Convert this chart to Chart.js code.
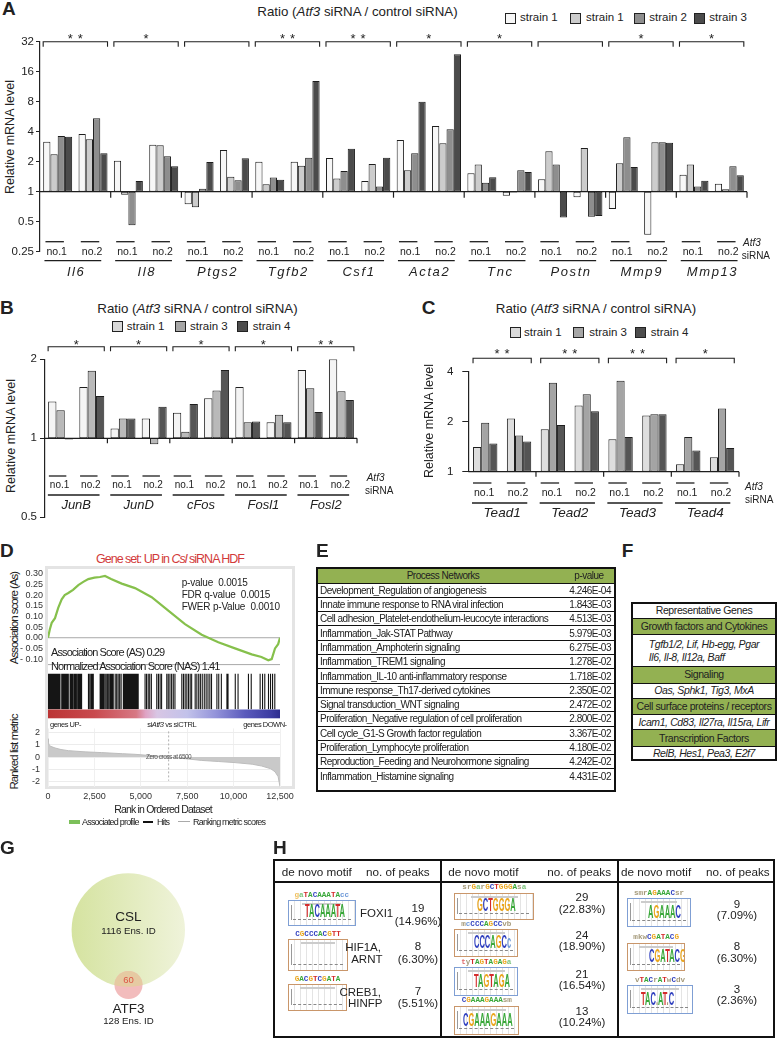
<!DOCTYPE html>
<html><head><meta charset="utf-8">
<script src="https://cdn.jsdelivr.net/npm/chart.js@4.4.1/dist/chart.umd.min.js"></script>
<style>
html,body{margin:0;padding:0;background:#fff}
#wrap{position:relative;width:779px;height:1040px;overflow:hidden;font-family:"Liberation Sans",Arial,Helvetica,sans-serif;color:#222}
#wrap canvas{position:absolute}
.t{position:absolute;white-space:nowrap;line-height:1}
.c{transform:translate(-50%,-50%)}
.l{transform:translate(0,-50%)}
.rot{transform:translate(-50%,-50%) rotate(-90deg)}
.pl{font-weight:bold;font-size:19px}
.er{display:flex;align-items:center;height:13.3px;border-top:1.5px solid #111;font-size:10px;letter-spacing:-0.5px;white-space:nowrap}
.er:first-child{border-top:none}
.e1{width:250px;flex:none;padding-left:2px;box-sizing:border-box;overflow:hidden}
.e2{flex:1;text-align:right;padding-right:3px;white-space:nowrap}
.hdr{background:#93b152}
.hdr .e1{text-align:center;padding:0}
.hdr .e2{text-align:center;padding:0 4px 0 0}
.fr{display:flex;flex-direction:column;justify-content:center;align-items:center;border-top:1.5px solid #111;font-size:10.5px;letter-spacing:-0.4px;line-height:1.25;box-sizing:border-box;white-space:nowrap}
.fr:first-child{border-top:none}
.fg{background:#93b152}
.fi{font-style:italic}
.logo{position:absolute;box-sizing:border-box;background:repeating-linear-gradient(90deg,#fff 0 5px,#e4e4e4 5px 6px);overflow:hidden}
.cons{position:absolute;font-family:"Liberation Mono","DejaVu Sans Mono",monospace;font-weight:bold;font-size:7.6px;line-height:1;white-space:nowrap;transform:translate(-50%,-50%)}
.lg{position:absolute;font-weight:bold;font-size:15px;line-height:1;white-space:nowrap;transform-origin:left bottom;transform:scale(0.5,1.25)}
</style></head>
<body><div id="wrap"></div>
<script>
// ================= DATA =================
const sirnaLabels = ['no.1', 'no.2'];

// Panel A
const genesA = ['Il6', 'Il8', 'Ptgs2', 'Tgfb2', 'Csf1', 'Acta2', 'Tnc', 'Postn', 'Mmp9', 'Mmp13'];
const seriesA = ['strain 1', 'strain 1', 'strain 2', 'strain 3'];
const starsA = [2, 1, 0, 2, 2, 1, 1, 0, 1, 1];
// order per gene: no.1, no.2
const aStrain1White = [3.17, 3.79, 2.05, 2.96, 0.75, 2.62, 2.00, 2.00, 2.18, 1.28, 3.30, 4.56, 1.53, 0.91, 1.33, 0.88, 0.67, 0.37, 1.48, 1.20];
const aStrain1Gray  = [2.37, 3.36, 0.93, 2.92, 0.70, 1.41, 1.19, 1.82, 1.36, 1.90, 1.64, 3.06, 1.87, 0.98, 2.54, 2.74, 1.93, 3.13, 1.87, 1.06];
const aStrain2      = [3.62, 5.45, 0.46, 2.27, 1.07, 1.30, 1.39, 2.19, 1.61, 1.13, 2.43, 4.23, 1.23, 1.64, 1.87, 0.56, 3.51, 3.13, 1.13, 1.80];
const aStrain3      = [3.56, 2.43, 1.28, 1.80, 1.99, 2.16, 1.32, 12.9, 2.70, 2.19, 8.00, 23.9, 1.40, 1.58, 0.55, 0.57, 1.77, 3.10, 1.29, 1.46];
const ticksA = [0.25, 0.5, 1, 2, 4, 8, 16, 32];

// Panel B
const genesB = ['JunB', 'JunD', 'cFos', 'Fosl1', 'Fosl2'];
const seriesB = ['strain 1', 'strain 3', 'strain 4'];
const starsB = [1, 1, 1, 1, 2];
const bStrain1 = [1.38, 1.57, 1.09, 1.19, 1.25, 1.42, 1.57, 1.15, 1.82, 2.00];
const bStrain3 = [1.28, 1.81, 1.19, 0.95, 1.06, 1.52, 1.15, 1.23, 1.55, 1.51];
const bStrain4 = [0.99, 1.45, 1.19, 1.32, 1.35, 1.82, 1.16, 1.15, 1.26, 1.40];
const ticksB = [0.5, 1, 2];

// Panel C
const genesC = ['Tead1', 'Tead2', 'Tead3', 'Tead4'];
const seriesC = ['strain 1', 'strain 3', 'strain 4'];
const starsC = [2, 2, 2, 1];
const cStrain1 = [1.41, 2.09, 1.80, 2.50, 1.57, 2.18, 1.11, 1.22];
const cStrain3 = [1.97, 1.65, 3.43, 2.93, 3.53, 2.22, 1.62, 2.40];
const cStrain4 = [1.48, 1.52, 1.91, 2.31, 1.62, 2.22, 1.34, 1.39];
const ticksC = [1, 2, 4];

// Panel D (GSEA)
const esRank  = [0, 100, 200, 377, 550, 738, 900, 1094, 1350, 1633, 1900, 2172, 2500, 2800, 3071, 3400, 3971, 4688, 5587, 6482, 7381, 8281, 9176, 10075, 10975, 11500, 11870, 12053, 12231, 12400, 12500];
const esScore = [0, 0.04, 0.07, 0.092, 0.14, 0.18, 0.20, 0.21, 0.225, 0.247, 0.262, 0.275, 0.282, 0.285, 0.29, 0.276, 0.254, 0.233, 0.19, 0.127, 0.064, 0.014, -0.021, -0.05, -0.078, -0.09, -0.106, -0.10, -0.05, -0.03, 0.0];
const esTicks = [-0.10, -0.05, 0, 0.05, 0.10, 0.15, 0.20, 0.25, 0.30];
const hitRanks = [20, 60, 110, 150, 200, 240, 290, 330, 380, 420, 470, 520, 560, 610, 645,
  740, 800, 850, 905, 960, 1010, 1060, 1095,
  1190, 1240, 1300, 1350, 1420, 1480, 1530, 1600, 1660, 1720, 1780, 1810,
  2180, 2250, 2320, 2380, 2440,
  2810, 2870, 2930, 2990, 3060, 3130, 3200, 3270, 3340, 3400, 3460, 3515,
  3620, 3700, 3780, 3860, 3940,
  4060, 4110, 4160, 4210, 4260, 4310, 4360, 4410, 4460, 4510, 4560, 4610, 4660, 4710, 4760, 4810, 4860,
  5230, 5310, 5400, 5480, 5570, 5860, 5950, 6040, 6120,
  6400, 6480, 6570, 6660, 6750, 6840, 7210, 7300, 7390, 7480, 7570, 7660, 7740,
  7930, 8020, 8120, 8210, 8310, 8420, 8520, 8620, 8720, 8810,
  9100, 9200, 9340, 9640, 9700, 10090, 10240, 10800, 10950, 11430, 11560, 11680, 11880, 11990, 12100, 12220];
const metricRank = [0, 20, 60, 150, 377, 700, 1094, 2000, 2893, 4000, 4688, 5500, 6482, 7400, 8281, 9200, 10075, 11000, 11515, 12000, 12231, 12400, 12460, 12500];
const metricVal  = [1.5, 1.2, 1.0, 0.88, 0.75, 0.62, 0.53, 0.43, 0.37, 0.28, 0.23, 0.13, 0.0, -0.13, -0.27, -0.36, -0.45, -0.58, -0.73, -0.95, -1.2, -1.6, -2.1, -2.4];
const metricTicks = [-2, -1, 0, 1, 2];
const rankTicks = [0, 2500, 5000, 7500, 10000, 12500];
const zeroCross = 6500;

// Panel E
const processNetworks = ['Development_Regulation of angiogenesis', 'Innate immune response to RNA viral infection',
  'Cell adhesion_Platelet-endothelium-leucocyte interactions', 'Inflammation_Jak-STAT Pathway', 'Inflammation_Amphoterin signaling',
  'Inflammation_TREM1 signaling', 'Inflammation_IL-10 anti-inflammatory response', 'Immune response_Th17-derived cytokines',
  'Signal transduction_WNT signaling', 'Proliferation_Negative regulation of cell proliferation', 'Cell cycle_G1-S Growth factor regulation',
  'Proliferation_Lymphocyte proliferation', 'Reproduction_Feeding and Neurohormone signaling', 'Inflammation_Histamine signaling'];
const processPValues = ['4.246E-04', '1.843E-03', '4.513E-03', '5.979E-03', '6.275E-03', '1.278E-02', '1.718E-02', '2.350E-02',
  '2.472E-02', '2.800E-02', '3.367E-02', '4.180E-02', '4.242E-02', '4.431E-02'];

// Panel F
const repGroups = ['Growth factors and Cytokines', 'Signaling', 'Cell surface proteins / receptors', 'Transcription Factors'];
const repGenes = [['Tgfb1/2, Lif, Hb-egg, Pgar', 'Il6, Il-8, Il12a, Baff'], ['Oas, Sphk1, Tig3, MxA'], ['Icam1, Cd83, Il27ra, Il15ra, Lifr'], ['RelB, Hes1, Pea3, E2f7']];

// Panel G
const vennNames = ['CSL', 'ATF3'];
const vennCounts = [1116, 128];
const vennOverlap = 60;

// Panel H
const motifCons  = [['gaTACAAATAcc', 'CGCCCACGTT', 'GACGTCGATA'], ['srGarGCTGGGAsa', 'mcCCCAGCCvb', 'tyTAGTAGAGa', 'CGAAAGAAAsm'], ['smrAGAAACsr', 'mkwCGATACG', 'vTACrATwCdv']];
const motifLogo  = [['TACAAATA', '', ''], ['GCTGGGA', 'CCCAGCc', 'TAGTAGA', 'CGAAAGAAA'], ['AGAAAC', 'CGATACG', 'TAC.AT.C']];
const motifMatch = [['FOXI1', 'HIF1A,|ARNT', 'CREB1,|HINFP'], ['', '', '', ''], ['', '', '']];
const motifPeaks = [[19, 8, 7], [29, 24, 21, 13], [9, 8, 3]];
const motifPct   = [['14.96%', '6.30%', '5.51%'], ['22.83%', '18.90%', '16.54%', '10.24%'], ['7.09%', '6.30%', '2.36%']];

// ================= HELPERS =================
const FF = '"Liberation Sans", Arial, Helvetica, sans-serif';
Chart.defaults.font.family = FF;
Chart.defaults.color = '#222';
const wrap = document.getElementById('wrap');
function T(x, y, html, cls, style) {
  const d = document.createElement('div');
  d.className = 't ' + (cls || 'c');
  d.style.left = x + 'px'; d.style.top = y + 'px';
  if (style) d.style.cssText += style;
  d.innerHTML = html; wrap.appendChild(d); return d;
}
function D(x, y, w, h, style) {
  const d = document.createElement('div');
  d.style.cssText = 'position:absolute;left:' + x + 'px;top:' + y + 'px;width:' + w + 'px;height:' + h + 'px;' + (style || '');
  wrap.appendChild(d); return d;
}
function mkCanvas(l, t, w, h) {
  const c = document.createElement('canvas');
  c.width = w; c.height = h; c.style.left = l + 'px'; c.style.top = t + 'px';
  c.style.width = w + 'px'; c.style.height = h + 'px';
  wrap.appendChild(c); return c;
}

function annot(o) {
  return {
    id: 'annot',
    afterDatasetsDraw(chart) {
      const ctx = chart.ctx, a = chart.chartArea, xs = chart.scales.x, ys = chart.scales.y;
      const P = v => v - o.cT;
      const line = (x0, y0, x1, y1) => { ctx.beginPath(); ctx.moveTo(x0, y0); ctx.lineTo(x1, y1); ctx.stroke(); };
      const y1 = ys.getPixelForValue(1);
      ctx.save();
      ctx.strokeStyle = '#1e1e1e'; ctx.fillStyle = '#222'; ctx.lineWidth = 1.2;
      line(a.left, y1, a.right, y1);
      const n = o.genes.length, gw = (a.right - a.left) / n;
      for (let g = 1; g <= n; g++) { const x = a.left + g * gw; line(x, y1, x, y1 + o.tickDown); }
      const nd = chart.data.datasets.length;
      for (let g = 0; g < n; g++) {
        const b0 = chart.getDatasetMeta(0).data[2 * g], b1 = chart.getDatasetMeta(nd - 1).data[2 * g + 1];
        const x0 = b0.x - b0.width / 2, x1 = b1.x + b1.width / 2, by = P(o.bracketY);
        ctx.lineWidth = 1.1;
        ctx.beginPath(); ctx.moveTo(x0, by + o.bracketDrop); ctx.lineTo(x0, by); ctx.lineTo(x1, by); ctx.lineTo(x1, by + o.bracketDrop); ctx.stroke();
        const ns = o.stars[g], cx = (x0 + x1) / 2;
        ctx.font = '13px ' + FF; ctx.textAlign = 'center'; ctx.textBaseline = 'alphabetic';
        for (let s = 0; s < ns; s++) ctx.fillText('*', cx + (s - (ns - 1) / 2) * 10, P(o.starY) + 7.5);
        ctx.font = o.subFont + 'px ' + FF; ctx.textBaseline = 'middle';
        const c1 = xs.getPixelForValue(2 * g), c2 = xs.getPixelForValue(2 * g + 1);
        const w1 = ctx.measureText(sirnaLabels[0]).width, w2 = ctx.measureText(sirnaLabels[1]).width;
        ctx.fillText(sirnaLabels[0], c1 - 1, P(o.subY));
        ctx.fillText(sirnaLabels[1], c2 - 1, P(o.subY));
        ctx.lineWidth = 1.3;
        line(c1 - w1 / 2 - 2, P(o.lineAboveY), c1 + w1 / 2 - 4, P(o.lineAboveY));
        line(c2 - w2 / 2 - 2, P(o.lineAboveY), c2 + w2 / 2 - 4, P(o.lineAboveY));
        line(c1 - w1 / 2 - 3, P(o.lineBelowY), c2 + w2 / 2 - 2, P(o.lineBelowY));
        ctx.font = 'italic ' + o.geneFont + 'px ' + FF;
        ctx.letterSpacing = (o.geneLS || 0) + 'px';
        ctx.fillText(o.genes[g], (c1 + c2) / 2 + (o.geneLS || 0) / 2, P(o.geneY));
        ctx.letterSpacing = '0px';
      }
      ctx.restore();
    }
  };
}

function barPanel(o) {
  const cv = mkCanvas(o.cL, o.cT, o.cW, o.cH);
  const labels = [];
  o.genes.forEach(g => sirnaLabels.forEach(s => labels.push(g + ' ' + s)));
  const datasets = o.series.map((name, i) => ({
    label: name,
    data: o.values[i].map(v => [1, v]),
    backgroundColor: o.colors[i],
    borderColor: '#1e1e1e', borderWidth: 1, borderSkipped: false,
    categoryPercentage: o.catPct, barPercentage: 1
  }));
  new Chart(cv, {
    type: 'bar',
    data: { labels, datasets },
    options: {
      responsive: false, animation: false,
      layout: { padding: { left: o.area.l - o.cL - o.yW, right: o.cL + o.cW - o.area.r, top: o.area.t - o.cT, bottom: o.cT + o.cH - o.area.b } },
      scales: {
        x: { display: false, offset: true },
        y: {
          type: 'logarithmic', min: o.yMin, max: o.yMax,
          afterBuildTicks: s => { s.ticks = o.yTicks.map(v => ({ value: v })); },
          afterFit: s => { s.width = o.yW; },
          ticks: { callback: v => String(v), font: { size: 11.5 }, color: '#222', padding: o.tickPad, autoSkip: false },
          grid: { display: true, drawOnChartArea: false, drawTicks: true, tickLength: o.tickLen, color: '#222', lineWidth: 1 },
          border: { display: true, color: '#222', width: 1.2 }
        }
      },
      plugins: { legend: { display: false }, tooltip: { enabled: false } }
    },
    plugins: [annot(o)]
  });
}

// ================= PANEL A =================
T(2, 8, 'A', 'l pl');
T(357.5, 12, 'Ratio (<i>Atf3</i> siRNA / control siRNA)', 'c', 'font-size:13.3px');
const legA = [[505, 520, '#f7f7f7'], [570, 586, '#cccccc'], [634, 649.3, '#8e8e8e'], [694.3, 709.3, '#4b4b4b']];
legA.forEach((p, i) => { D(p[0], 12.8, 11, 11, 'border:1px solid #222;box-sizing:border-box;background:' + p[2]); T(p[1], 18.3, seriesA[i], 'l', 'font-size:11.5px'); });
T(10, 137, 'Relative mRNA level', 'rot', 'font-size:12.5px');
barPanel({
  cL: 0, cT: 0, cW: 779, cH: 290, area: { l: 40, r: 747, t: 41.7, b: 251.7 }, yW: 40,
  yMin: 0.25, yMax: 32, yTicks: ticksA, tickLen: 4, tickPad: 2, catPct: 0.82,
  genes: genesA, stars: starsA, series: seriesA,
  values: [aStrain1White, aStrain1Gray, aStrain2, aStrain3],
  colors: ['#f7f7f7', '#cccccc', '#8e8e8e', '#4b4b4b'],
  bracketY: 41.7, bracketDrop: 5, starY: 35, tickDown: 6,
  lineAboveY: 241.7, subY: 252, lineBelowY: 260.7, geneY: 272.7, subFont: 10.5, geneFont: 13, geneLS: 1.6
});
T(743, 243.3, '<i>Atf3</i>', 'l', 'font-size:10px');
T(741.7, 255.5, 'siRNA', 'l', 'font-size:10px');

// ================= PANEL B =================
T(0, 306.5, 'B', 'l pl');
T(197.5, 309, 'Ratio (<i>Atf3</i> siRNA / control siRNA)', 'c', 'font-size:13.3px');
const legB = [[111.7, 126.7, '#d9d9d9'], [175, 190, '#a6a6a6'], [237.3, 252.7, '#4d4d4d']];
legB.forEach((p, i) => { D(p[0], 321.2, 11, 11, 'border:1px solid #222;box-sizing:border-box;background:' + p[2]); T(p[1], 326.7, seriesB[i], 'l', 'font-size:11.5px'); });
T(11, 436, 'Relative mRNA level', 'rot', 'font-size:12.5px');
barPanel({
  cL: 0, cT: 290, cW: 400, cH: 240, area: { l: 45, r: 357, t: 359.3, b: 517.3 }, yW: 45,
  yMin: 0.5, yMax: 2, yTicks: ticksB, tickLen: 5, tickPad: 3, catPct: 0.8,
  genes: genesB, stars: starsB, series: seriesB,
  values: [bStrain1, bStrain3, bStrain4],
  colors: ['#f4f4f4', '#b9b9b9', '#555555'],
  bracketY: 346.7, bracketDrop: 4.5, starY: 341, tickDown: 5,
  lineAboveY: 476, subY: 485, lineBelowY: 495, geneY: 505.5, subFont: 10, geneFont: 13, geneLS: 0
});
T(366.7, 478.3, '<i>Atf3</i>', 'l', 'font-size:10px');
T(365, 491, 'siRNA', 'l', 'font-size:10px');

// ================= PANEL C =================
T(421.7, 306.7, 'C', 'l pl');
T(596, 309, 'Ratio (<i>Atf3</i> siRNA / control siRNA)', 'c', 'font-size:13.3px');
const legC = [[510, 524, '#d9d9d9'], [573.3, 589.3, '#a6a6a6'], [635, 650.7, '#4d4d4d']];
legC.forEach((p, i) => { D(p[0], 327.2, 11, 11, 'border:1px solid #222;box-sizing:border-box;background:' + p[2]); T(p[1], 332.7, seriesC[i], 'l', 'font-size:11.5px'); });
T(429, 421, 'Relative mRNA level', 'rot', 'font-size:12.5px');
barPanel({
  cL: 400, cT: 330, cW: 379, cH: 200, area: { l: 468.3, r: 739, t: 371.7, b: 471.7 }, yW: 68.3,
  yMin: 1, yMax: 4, yTicks: ticksC, tickLen: 6, tickPad: 9, catPct: 0.72,
  genes: genesC, stars: starsC, series: seriesC,
  values: [cStrain1, cStrain3, cStrain4],
  colors: ['#dedede', '#a4a4a4', '#555555'],
  bracketY: 358.3, bracketDrop: 5, starY: 350, tickDown: 5,
  lineAboveY: 483, subY: 493, lineBelowY: 503, geneY: 513.5, subFont: 10.5, geneFont: 13.5, geneLS: 0
});
T(745, 487.3, '<i>Atf3</i>', 'l', 'font-size:10px');
T(745, 499.5, 'siRNA', 'l', 'font-size:10px');

// ================= PANEL D =================
T(0, 550, 'D', 'l pl');
D(45, 566, 250, 223, 'border:3px solid #e4e4e4;box-sizing:border-box');
T(170, 559, 'Gene set: UP in <i>Csl</i> siRNA HDF', 'c', 'color:#d23a3a;font-size:12.5px;letter-spacing:-1px');
T(15, 618, 'Association score (As)', 'rot', 'font-size:11.5px;letter-spacing:-1px');
T(15, 752, 'Ranked list metric', 'rot', 'font-size:11.5px;letter-spacing:-0.9px');

const cvD1 = mkCanvas(0, 560, 300, 115);
new Chart(cvD1, {
  type: 'line',
  data: { datasets: [{ data: esRank.map((r, i) => ({ x: r, y: esScore[i] })), borderColor: '#86c04c', borderWidth: 2.2, pointRadius: 0, fill: false, tension: 0 }] },
  options: {
    responsive: false, animation: false,
    layout: { padding: { left: 0, right: 20, top: 9, bottom: 2 } },
    scales: {
      x: { type: 'linear', min: 0, max: 12500, display: false },
      y: {
        min: -0.126, max: 0.316,
        afterBuildTicks: s => { s.ticks = esTicks.map(v => ({ value: v })); },
        afterFit: s => { s.width = 48; },
        ticks: { callback: v => (v < -1e-9 ? '- ' + (-v).toFixed(2) : Math.abs(v).toFixed(2)), font: { size: 9 }, padding: 5, color: '#333', autoSkip: false },
        grid: { display: false, drawTicks: false }, border: { display: false }
      }
    },
    plugins: { legend: { display: false }, tooltip: { enabled: false } }
  },
  plugins: [{
    id: 'zero', beforeDatasetsDraw(chart) {
      const c = chart.ctx, a = chart.chartArea, y0 = chart.scales.y.getPixelForValue(0);
      c.save(); c.strokeStyle = '#a8a8a8'; c.lineWidth = 1;
      c.beginPath(); c.moveTo(a.left, y0); c.lineTo(a.right, y0); c.stroke();
      c.beginPath(); c.moveTo(a.left, a.bottom); c.lineTo(a.right, a.bottom); c.stroke();
      c.restore();
    }
  }]
});
T(181.7, 582.7, 'p-value&nbsp; 0.0015', 'l', 'font-size:10px;letter-spacing:-0.2px');
T(181.7, 594.5, 'FDR q-value&nbsp; 0.0015', 'l', 'font-size:10px;letter-spacing:-0.2px');
T(181.7, 606.8, 'FWER p-Value&nbsp; 0.0010', 'l', 'font-size:10px;letter-spacing:-0.2px');
T(51, 651.7, 'Association Score (AS) 0.29', 'l', 'font-size:11px;letter-spacing:-0.9px');
T(51, 666, 'Normalized Association Score (NAS) 1.41', 'l', 'font-size:11px;letter-spacing:-0.9px');

// hits: one vertical segment per hit rank (gaps between segments)
const hitSegments = [];
hitRanks.forEach(r => { hitSegments.push({ x: r, y: 0 }, { x: r, y: 1 }, { x: r, y: null }); });
const cvD2 = mkCanvas(0, 670, 300, 50);
new Chart(cvD2, {
  type: 'line',
  data: { datasets: [{ data: hitSegments, borderColor: '#151515', borderWidth: 1.1, pointRadius: 0, spanGaps: false, fill: false, tension: 0 }] },
  options: {
    responsive: false, animation: false,
    layout: { padding: { left: 48, right: 20, top: 3.5, bottom: 10.5 } },
    scales: { x: { type: 'linear', min: 0, max: 12500, display: false }, y: { min: 0, max: 1, display: false } },
    plugins: { legend: { display: false }, tooltip: { enabled: false } }
  },
  plugins: [{
    id: 'cbar', afterDraw(chart) {
      const c = chart.ctx, a = chart.chartArea;
      const g = c.createLinearGradient(a.left, 0, a.right, 0);
      [[0, '#bb3434'], [0.2, '#c94a4e'], [0.38, '#d77884'], [0.42, '#dfa3c3'], [0.47, '#d8c6e4'], [0.6, '#c2c2ea'], [0.72, '#9494da'], [0.85, '#5a5abc'], [0.96, '#3c3ca2'], [1, '#2c2c8e']]
        .forEach(s => g.addColorStop(s[0], s[1]));
      c.save(); c.fillStyle = g; c.fillRect(a.left, a.bottom, a.right - a.left, 8.8); c.restore();
    }
  }]
});
T(50, 725, 'genes UP-', 'l', 'font-size:7.5px;letter-spacing:-0.5px');
T(171.7, 725, 'si<i>Atf3</i> vs siCTRL', 'c', 'font-size:7.5px;letter-spacing:-0.4px');
T(243.3, 725, 'genes DOWN-', 'l', 'font-size:7.5px;letter-spacing:-0.5px');

const cvD3 = mkCanvas(0, 715, 300, 100);
new Chart(cvD3, {
  type: 'line',
  data: { datasets: [{ data: metricRank.map((r, i) => ({ x: r, y: metricVal[i] })), borderColor: '#bdbdbd', borderWidth: 1, backgroundColor: '#c9c9c9', pointRadius: 0, fill: 'origin', tension: 0 }] },
  options: {
    responsive: false, animation: false,
    layout: { padding: { left: 0, right: 20, top: 3, bottom: 8.3 } },
    scales: {
      x: {
        type: 'linear', min: 0, max: 12500,
        afterBuildTicks: s => { s.ticks = rankTicks.map(v => ({ value: v })); },
        afterFit: s => { s.height = 20; },
        ticks: { callback: v => v.toLocaleString('en-US'), font: { size: 9 }, color: '#333', padding: 4, maxRotation: 0, autoSkip: false },
        grid: { color: '#f0f0f0', drawTicks: false }, border: { display: false }
      },
      y: {
        min: -2.42, max: 2.35,
        afterBuildTicks: s => { s.ticks = metricTicks.map(v => ({ value: v })); },
        afterFit: s => { s.width = 48; },
        ticks: { font: { size: 9 }, color: '#333', padding: 8, autoSkip: false },
        grid: { color: '#ececec', drawTicks: false }, border: { display: false }
      }
    },
    plugins: { legend: { display: false }, tooltip: { enabled: false } }
  },
  plugins: [{
    id: 'zc', afterDatasetsDraw(chart) {
      const c = chart.ctx, a = chart.chartArea, x = chart.scales.x.getPixelForValue(zeroCross), y0 = chart.scales.y.getPixelForValue(0);
      c.save(); c.strokeStyle = '#b0b0b0'; c.lineWidth = 1; c.setLineDash([2, 2]);
      c.beginPath(); c.moveTo(x, a.top + 3); c.lineTo(x, a.bottom - 6); c.stroke();
      c.setLineDash([]);
      c.font = '6.5px ' + FF; c.letterSpacing = '-0.5px'; c.fillStyle = '#555'; c.textAlign = 'center'; c.textBaseline = 'middle';
      c.fillText('Zero cross at ' + zeroCross, x, y0);
      c.restore();
    }
  }]
});
T(163, 809, 'Rank in Ordered Dataset', 'c', 'font-size:10.5px;letter-spacing:-0.8px');
D(69, 820.3, 11, 3.5, 'background:#7cc05a');
T(82, 822, 'Associated profile', 'l', 'font-size:9px;letter-spacing:-0.8px');
D(143, 821.3, 10, 1.5, 'background:#111');
T(157, 822, 'Hits', 'l', 'font-size:9px;letter-spacing:-0.8px');
D(178, 821.3, 12, 1.2, 'background:#aaa');
T(193, 822, 'Ranking metric scores', 'l', 'font-size:9px;letter-spacing:-0.8px');

// ================= PANEL E =================
T(316, 550, 'E', 'l pl');
(function () {
  const box = D(316, 567.3, 300, 224.4, 'border:2px solid #111;box-sizing:border-box;overflow:hidden');
  let h = '<div class="er hdr"><span class="e1">Process Networks</span><span class="e2">p-value</span></div>';
  processNetworks.forEach((p, i) => { h += '<div class="er"><span class="e1">' + p + '</span><span class="e2">' + processPValues[i] + '</span></div>'; });
  box.innerHTML = h;
})();

// ================= PANEL F =================
T(621.7, 550, 'F', 'l pl');
(function () {
  const box = D(631, 601.7, 146, 159.5, 'border:2px solid #111;box-sizing:border-box;overflow:hidden');
  const gh = [16.7, 16.7, 16.7, 16.7], ih = [31.7, 15, 15, 16];
  let h = '<div class="fr" style="height:14px">Representative Genes</div>';
  repGroups.forEach((g, i) => {
    h += '<div class="fr fg" style="height:' + gh[i] + 'px">' + g + '</div>';
    h += '<div class="fr fi" style="height:' + (i === 3 ? ih[i] - 2.5 : ih[i]) + 'px">' + repGenes[i].join('<br>') + '</div>';
  });
  box.innerHTML = h;
})();

// ================= PANEL G =================
T(0, 847, 'G', 'l pl');
(function () {
  const ns = 'http://www.w3.org/2000/svg';
  const svg = document.createElementNS(ns, 'svg');
  svg.setAttribute('width', 779); svg.setAttribute('height', 1040);
  svg.style.cssText = 'position:absolute;left:0;top:0';
  svg.innerHTML = '<defs><linearGradient id="gcsl" x1="0" x2="1" y1="0" y2="0"><stop offset="0" stop-color="#d5e3a0"/><stop offset="1" stop-color="#eff3da"/></linearGradient>' +
    '<clipPath id="cbig"><circle cx="128.3" cy="930" r="56.7"/></clipPath></defs>' +
    '<circle cx="128.3" cy="930" r="56.7" fill="url(#gcsl)"/>' +
    '<circle cx="128.5" cy="985" r="14" fill="#f2bcbc"/>' +
    '<circle cx="128.5" cy="985" r="14" fill="#e6caa2" clip-path="url(#cbig)"/>';
  wrap.appendChild(svg);
})();
T(128.5, 917, vennNames[0], 'c', 'font-size:13.5px');
T(128.5, 930.7, vennCounts[0] + ' Ens. ID', 'c', 'font-size:9.7px');
T(128.5, 979.7, String(vennOverlap), 'c', 'font-size:9.5px;color:#dd5544');
T(128.5, 1009, vennNames[1], 'c', 'font-size:13.5px');
T(128.5, 1021, vennCounts[1] + ' Ens. ID', 'c', 'font-size:9.7px');

// ================= PANEL H =================
T(273, 847, 'H', 'l pl');
D(273, 859.3, 502, 179, 'border:2px solid #111;box-sizing:border-box');
D(273, 881, 502, 2, 'background:#111');
D(440, 859.3, 2, 179, 'background:#111');
D(617, 859.3, 2, 179, 'background:#111');
[[281.7, 366], [448.3, 547.3], [621, 706]].forEach(p => {
  T(p[0], 871.7, 'de novo motif', 'l', 'font-size:11.7px');
  T(p[1], 871.7, 'no. of peaks', 'l', 'font-size:11.7px');
});
const LETTER_COL = { A: '#3aa83a', C: '#2f3fbf', G: '#eaa51c', T: '#d42b2b' };
const LETTER_COL_LC = { A: '#7cc47c', C: '#6f9ad8', G: '#f0c060', T: '#e07070' };
function colorize(s) {
  return s.split('').map(ch => {
    const u = ch.toUpperCase(); let col = LETTER_COL[u] || '#a59a7a';
    if (ch !== u && LETTER_COL[u]) col = LETTER_COL_LC[u];
    return '<span style="color:' + col + '">' + ch + '</span>';
  }).join('');
}
// layout of each motif cell: [consY, boxY, boxW, boxH, borderColor, logoLeft, peaksY, pctY, nameY]
const hLayout = [
  { bx: 288, nx: 418, items: [[896, 900, 67.5, 25.5, '#7f9fd4', 16, 909, 921.5, 914], [935, 939, 60, 32, '#c9966a', 0, 946.5, 959.5, 0], [980, 984, 59, 27, '#c9966a', 0, 991.5, 1003.5, 0]] },
  { bx: 454.3, nx: 582, items: [[888.3, 892.7, 80, 27.3, '#c9966a', 22, 898.3, 910, 0], [925, 929.3, 64, 27.4, '#c9966a', 19, 935.7, 947.3, 0], [962.7, 967.3, 64, 28.7, '#7f9fd4', 19, 975, 986, 0], [1001, 1006, 65, 29, '#c9966a', 7.5, 1012.3, 1023.3, 0]] },
  { bx: 627.3, nx: 737, items: [[894.3, 898.3, 63.4, 28.4, '#7f9fd4', 19.5, 905, 916.3, 0], [938.3, 942.7, 57.7, 28, '#c9966a', 21, 947, 958.7, 0], [980.7, 985, 65.4, 29.3, '#7f9fd4', 13, 990, 1001.3, 0]] }
];
hLayout.forEach((sec, si) => {
  sec.items.forEach((it, mi) => {
    const [cy, by, bw, bh, bc, loff, ny, py] = it;
    const cons = document.createElement('div');
    cons.className = 'cons'; cons.style.left = (sec.bx + bw / 2) + 'px'; cons.style.top = cy + 'px';
    cons.innerHTML = colorize(motifCons[si][mi]); wrap.appendChild(cons);
    const lb = D(sec.bx, by, bw, bh, 'border:1px solid ' + bc);
    lb.className = 'logo';
    lb.innerHTML = '<div style="position:absolute;left:20%;right:20%;top:2px;height:2px;background:#ccc"></div>' +
      '<div style="position:absolute;left:2px;top:4px;bottom:5px;width:1px;background:#999"></div>' +
      '<div style="position:absolute;left:4px;right:4px;bottom:5px;border-top:1px dashed #888"></div>';
    if (motifLogo[si][mi]) {
      const lg = document.createElement('div'); lg.className = 'lg';
      lg.style.left = loff + 'px'; lg.style.bottom = '6px';
      lg.innerHTML = colorize(motifLogo[si][mi]); lb.appendChild(lg);
    }
    T(sec.nx, ny, String(motifPeaks[si][mi]), 'c', 'font-size:11.5px');
    T(sec.nx, py, '(' + motifPct[si][mi] + ')', 'c', 'font-size:11.5px');
    const m = motifMatch[si][mi];
    if (m) {
      const parts = m.split('|');
      if (parts.length === 1) T(360, it[8], parts[0], 'l', 'font-size:11.5px');
      else { T(381, ny + 1.5, parts[0], 'c', 'font-size:11.5px;transform:translate(-100%,-50%)'); T(382.5, py, parts[1], 'c', 'font-size:11.5px;transform:translate(-100%,-50%)'); }
    }
  });
});
</script>
</body></html>
